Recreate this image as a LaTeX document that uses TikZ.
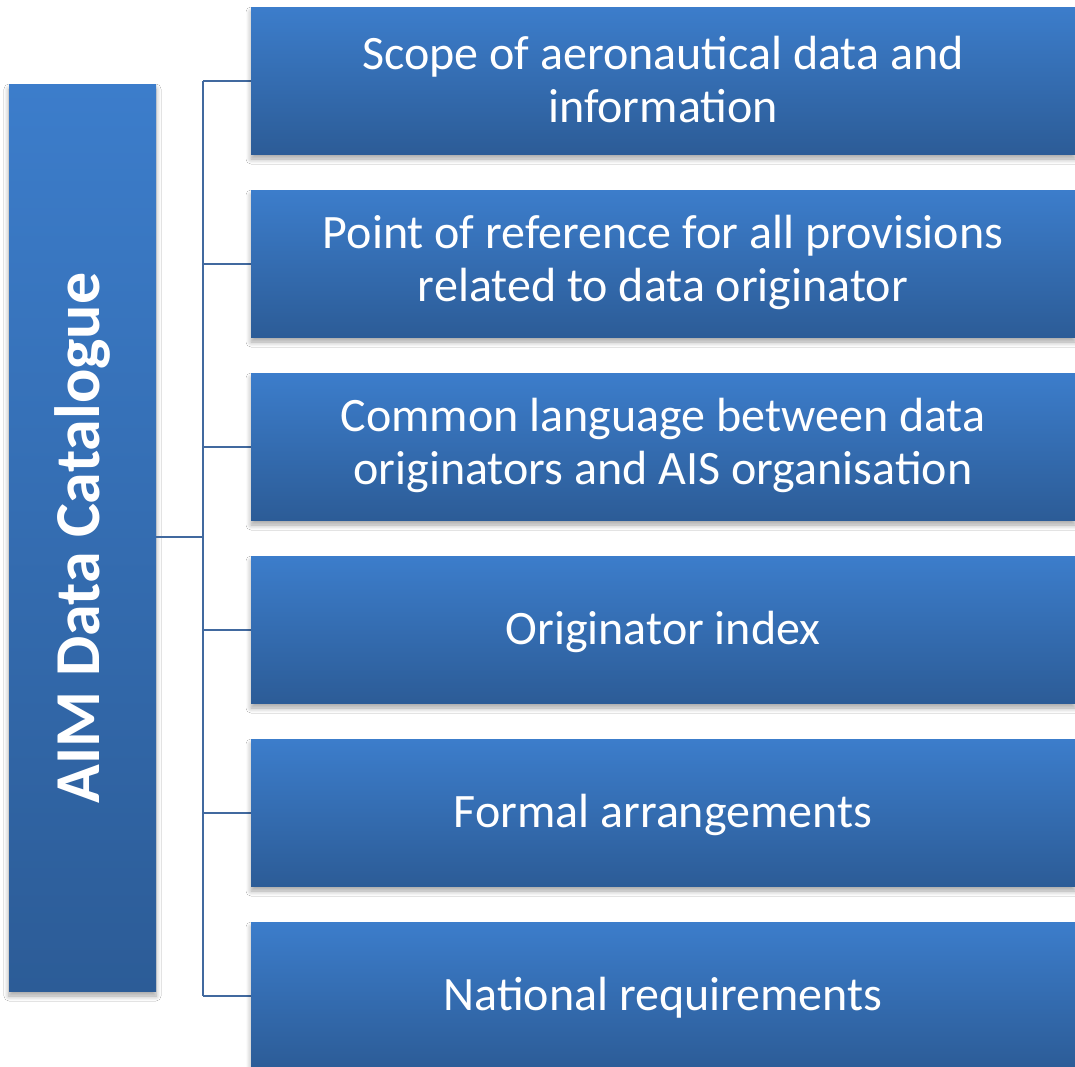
\documentclass[tikz,border=0pt]{standalone}
\usepackage{fontspec}
\setmainfont{Carlito}
\usetikzlibrary{shadows.blur}
\definecolor{btop}{HTML}{3C7DCB}
\definecolor{bbot}{HTML}{2C5C97}
\definecolor{lineblue}{HTML}{41699F}
\tikzset{
  boxbase/.style={draw=none, top color=btop, bottom color=bbot, text=white,
    blur shadow={shadow xshift=0pt, shadow yshift=-5pt, shadow blur steps=6, shadow opacity=35, shadow blur radius=5pt}},
  itembox/.style={boxbase, minimum width=824pt, minimum height=147pt, inner sep=0pt},
  itemtext/.style={text=white, inner sep=0pt, align=center, font=\fontsize{48}{53}\selectfont},
  mainbox/.style={boxbase, minimum width=147pt, minimum height=907pt, inner sep=0pt},
  conn/.style={draw=lineblue, line width=2pt}
}
\begin{document}
\begin{tikzpicture}[x=1pt,y=-1pt]
\useasboundingbox (0,0) rectangle (1075,1066);
\clip (0,0) rectangle (1075,1066);
\fill[white] (0,0) rectangle (1075,1066);
% connectors
\coordinate (jt) at (203,80.5);
\coordinate (jb) at (203,995.5);
\coordinate (jm) at (203,537);
\draw[conn] (jt) -- (jb);
\foreach \y in {80.5,263.5,446.5,629.5,812.5,995.5}{
  \draw[conn] (203,\y) -- (252,\y);
}
\node[mainbox] (main) at (82.5,537.5) {};
\node[text=white, rotate=90, font=\bfseries\fontsize{64}{70}\selectfont] (maintext) at (82,538) {AIM Data Catalogue};
\draw[conn] (main.east |- jm) -- (jm);
\node[itembox] (b1) at (663,80.5) {};
\node[itembox] (b2) at (663,263.5) {};
\node[itembox] (b3) at (663,446.5) {};
\node[itembox] (b4) at (663,629.5) {};
\node[itembox] (b5) at (663,812.5) {};
\node[itembox] (b6) at (663,995.5) {};
\node[itemtext] (t1) at ([yshift=1pt]b1.center) {Scope of aeronautical data and\\information};
\node[itemtext] (t2) at ([yshift=1pt]b2.center) {Point of reference for all provisions\\related to data originator};
\node[itemtext] (t3) at ([yshift=1pt]b3.center) {Common language between data\\originators and AIS organisation};
\node[itemtext] (t4) at ([yshift=-2pt]b4.center) {Originator index};
\node[itemtext] (t5) at ([yshift=-2pt]b5.center) {Formal arrangements};
\node[itemtext] (t6) at ([yshift=-2pt]b6.center) {National requirements};
\end{tikzpicture}
\end{document}
